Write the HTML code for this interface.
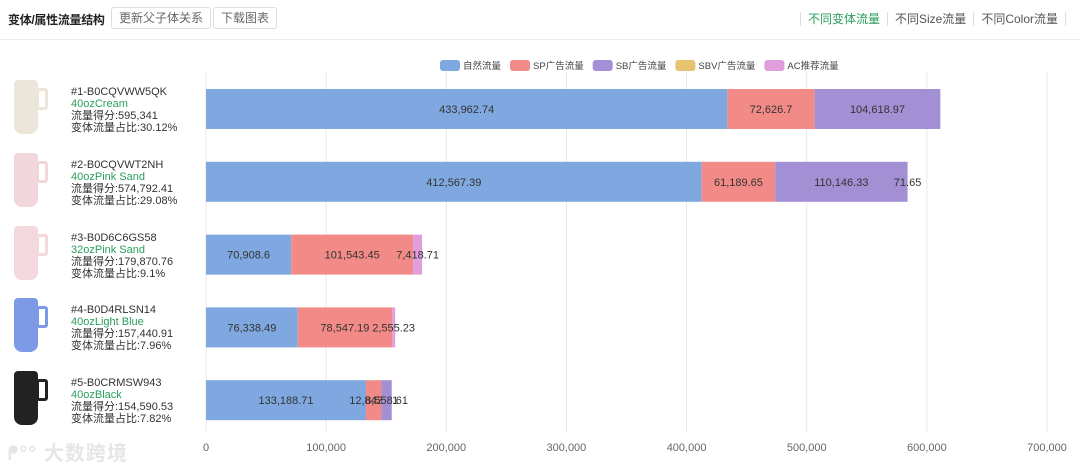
<!DOCTYPE html>
<html><head><meta charset="utf-8">
<style>
*{margin:0;padding:0;box-sizing:border-box}
body{width:1080px;height:469px;background:#fff;font-family:"Liberation Sans","Noto Sans CJK SC",sans-serif;position:relative;overflow:hidden;color:#333}
.hdr{position:absolute;left:0;top:0;width:1080px;height:40px;border-bottom:1px solid #eee}
.title{position:absolute;left:8px;top:11px;font-size:12px;font-weight:bold;color:#222;letter-spacing:-0.3px}
.btn{position:absolute;top:7px;height:22px;border:1px solid #ddd;border-radius:3px;font-size:12px;color:#666;line-height:20px;padding:0 7px}
.tabs{position:absolute;right:14px;top:10px;font-size:12px;color:#555}
.tabs span{padding:0 7px;border-left:1px solid #ddd}
.item{position:absolute;left:71px;font-size:11px;line-height:12px;color:#333}
.item .g{color:#2a9d5c}
.cup{position:absolute;left:12px;width:40px;height:60px}
.wm{position:absolute;left:8px;top:437px;font-size:20px;color:#e6e6e6;font-weight:bold;letter-spacing:1px}
</style></head><body>
<div class="hdr">
<div class="title">变体/属性流量结构</div>
<div class="btn" style="left:111px">更新父子体关系</div>
<div class="btn" style="left:213px">下载图表</div>
<div class="tabs"><span style="color:#2a9d5c">不同变体流量</span><span>不同Size流量</span><span style="border-right:1px solid #ddd">不同Color流量</span></div>
</div>
<div id="items"></div>
<svg id="chart" width="1080" height="469" style="position:absolute;left:0;top:0"></svg>
<div class="wm">ᖰ°° 大数跨境</div>
<script>
const categories=["#1-B0CQVWW5QK","#2-B0CQVWT2NH","#3-B0D6C6GS58","#4-B0D4RLSN14","#5-B0CRMSW943"];
const variants=["40ozCream","40ozPink Sand","32ozPink Sand","40ozLight Blue","40ozBlack"];
const scores=["595,341","574,792.41","179,870.76","157,440.91","154,590.53"];
const shares=["30.12%","29.08%","9.1%","7.96%","7.82%"];
const seriesNames=["自然流量","SP广告流量","SB广告流量","SBV广告流量","AC推荐流量"];
const natural=[433962.74,412567.39,70908.6,76338.49,133188.71];
const sp=[72626.7,61189.65,101543.45,78547.19,12843.21];
const sb=[104618.97,110146.33,0,0,8558.61];
const sbv=[0,0,0,0,0];
const ac=[0,71.65,7418.71,2555.23,0];
const ticks=[0,100000,200000,300000,400000,500000,600000,700000];
const colors=["#7fa8e0","#f28b87","#a38fd3","#e6c36f","#e09fdc"];
const cupColors=["#ece6da","#f1d6dc","#f3d8de","#7c9ae6","#222"];
const NS="http://www.w3.org/2000/svg";
const svg=document.getElementById('chart');
const x=v=>206+v*(841/700000);
const yc=i=>109+i*72.8;
function mk(t,a){const e=document.createElementNS(NS,t);for(const k in a)e.setAttribute(k,a[k]);svg.appendChild(e);return e;}
ticks.forEach(t=>{
 const l=mk('line',{x1:x(t),x2:x(t),y1:72,y2:432,stroke:'#e8e8e8'});
 
 
 const tx=mk('text',{x:x(t),y:451,'text-anchor':'middle','font-size':11,fill:'#666'});
 tx.textContent=t.toLocaleString('en-US');
 
 
});
const series=[natural,sp,sb,sbv,ac];
categories.forEach((c,i)=>{
 let acc=0;
 series.forEach((s,k)=>{
  const v=s[i]; if(!v) return;
  const r=mk('rect',{x:x(acc),y:yc(i)-20,width:x(acc+v)-x(acc),height:40,fill:colors[k]});
  
  
  const t=mk('text',{x:(x(acc)+x(acc+v))/2,y:yc(i)+4,'text-anchor':'middle','font-size':11,fill:'#333'});
  t.textContent=v.toLocaleString('en-US',{maximumFractionDigits:2});
  
  
  acc+=v;
 });
});
let lx=440;
seriesNames.forEach((n,k)=>{
 const r=mk('rect',{x:lx,y:60,width:20,height:11,rx:3,fill:colors[k]});
 
 
 const t=mk('text',{x:lx+23,y:69,'font-size':9.5,fill:'#444'});
 t.textContent=n;
 
 
 lx+=23+t.getComputedTextLength()+9;
});
const items=document.getElementById('items');
categories.forEach((c,i)=>{
 const d=document.createElement('div');
 d.className='item';d.style.top=(yc(i)-23)+'px';
 d.innerHTML=`<div>${c}</div><div class="g">${variants[i]}</div><div>流量得分:${scores[i]}</div><div>变体流量占比:${shares[i]}</div>`;
 
 
 items.appendChild(d);
 const cup=document.createElement('div');
 cup.className='cup';cup.style.top=(yc(i)-33)+'px';
 cup.innerHTML=`<div style="position:absolute;left:2px;top:4px;width:24px;height:54px;background:${cupColors[i]};border-radius:4px 4px 8px 8px"></div><div style="position:absolute;left:24px;top:12px;width:12px;height:22px;border:3px solid ${cupColors[i]};border-radius:3px"></div>`;
 
 
 items.appendChild(cup);
});
</script>
</body></html>
